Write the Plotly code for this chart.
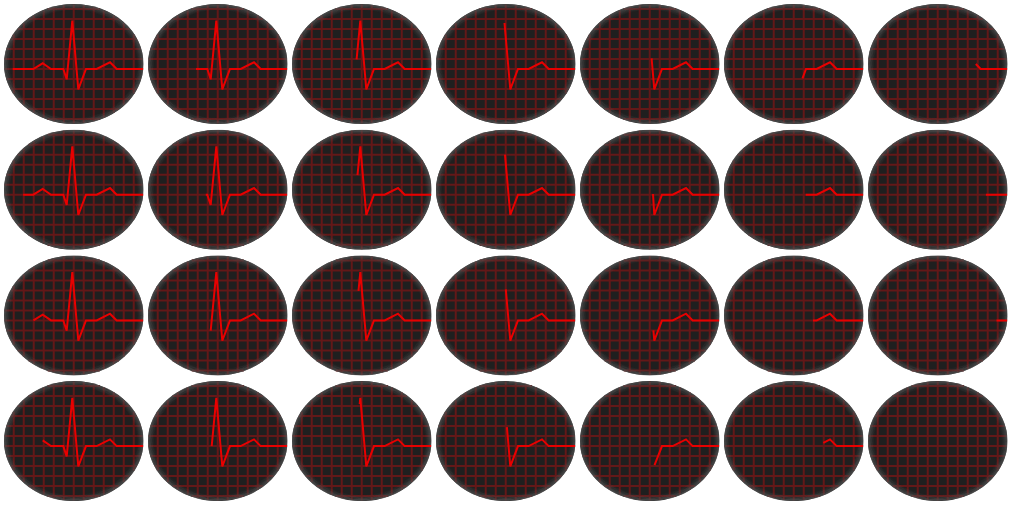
import numpy as np
import plotly.graph_objects as go

# one ECG complex: x = px from the left edge of a screen, y = px above baseline
ecg_t = [29.3, 38.7, 47.0, 59.3, 62.7, 68.3, 74.3, 82.0, 92.7, 106.0, 112.7, 139.3]
ecg_v = [0.0, 5.7, 0.0, 0.0, -10.3, 48.3, -20.3, 0.0, 0.0, 6.7, 0.0, 0.0]

# where the sweep has erased the trace up to, per screen (4 rows x 7 columns)
start_t = [
    [8.7, 48.0, 64.6, 68.5, 71.6, 78.5, 107.8],
    [19.1, 57.8, 65.5, 69.0, 73.0, 81.7, 117.9],
    [29.4, 62.7, 66.5, 69.8, 73.4, 89.0, 128.5],
    [38.7, 63.7, 67.7, 70.9, 74.5, 99.3, None],
]
start_v = [
    [0.0, 0.0, 9.7, 46.0, 10.7, -9.3, 5.0],
    [0.0, 0.0, 19.5, 40.0, 0.7, 0.0, 0.0],
    [0.0, -10.3, 29.5, 31.0, -10.0, 0.0, 0.0],
    [5.7, 0.0, 42.0, 19.0, -19.0, 3.3, None],
]

W, H = 1024, 508
SCR_W, SCR_H = 139.5, 120.0
X_RANGE = [0, SCR_W]
Y_RANGE = [-55, 65]
cx, cy = SCR_W / 2, 5.0
ax_, ay_ = SCR_W / 2, SCR_H / 2

BG = "#1f1f1f"
GRID = "#631818"
LINE = "#e80000"

fig = go.Figure()
layout = dict(width=W, height=H, margin=dict(l=0, r=0, t=0, b=0),
              paper_bgcolor="white", plot_bgcolor="rgba(0,0,0,0)",
              showlegend=False, hovermode=False)
shapes = []

# grid segments clipped to the ellipse (same for every screen)
gx, gy = [], []
for k in range(-6, 7):
    x = cx + 10 * k
    h = ay_ * np.sqrt(max(0.0, 1 - ((x - cx) / (ax_ - 0.5)) ** 2)) - 0.5
    gx += [x, x, None]
    gy += [cy - h, cy + h, None]
for k in range(-5, 7):
    y = 10.0 * k
    w = ax_ * np.sqrt(max(0.0, 1 - ((y - cy) / (ay_ - 0.5)) ** 2)) - 0.5
    gx += [cx - w, cx + w, None]
    gy += [y, y, None]

# rim shading: inset ellipse outlines fading inward
theta = np.linspace(0, 2 * np.pi, 181)
rim_insets = [0.5, 1.5, 2.5, 3.5, 4.5, 5.5]
rim_alpha = [0.7, 0.55, 0.4, 0.27, 0.16, 0.07]

n = 0
for r in range(4):
    top = 4 + 125.7 * r
    for c in range(7):
        n += 1
        left = 4 + 144 * c
        sfx = "" if n == 1 else str(n)
        xr, yr = "x" + sfx, "y" + sfx
        layout["xaxis" + sfx] = dict(domain=[left / W, (left + SCR_W) / W], range=X_RANGE,
                                     visible=False, fixedrange=True, anchor=yr)
        layout["yaxis" + sfx] = dict(domain=[1 - (top + SCR_H) / H, 1 - top / H], range=Y_RANGE,
                                     visible=False, fixedrange=True, anchor=xr)
        shapes.append(dict(type="circle", xref=xr, yref=yr, x0=0, x1=SCR_W,
                           y0=Y_RANGE[0], y1=Y_RANGE[1], fillcolor=BG,
                           line=dict(width=0), layer="below"))

        fig.add_trace(go.Scatter(x=gx, y=gy, mode="lines", xaxis=xr, yaxis=yr,
                                 line=dict(color=GRID, width=2), hoverinfo="skip"))
        for d, a in zip(rim_insets, rim_alpha):
            fig.add_trace(go.Scatter(
                x=cx + (ax_ - d) * np.cos(theta), y=cy + (ay_ - d) * np.sin(theta),
                mode="lines", xaxis=xr, yaxis=yr, hoverinfo="skip",
                line=dict(color=f"rgba(85,85,85,{a})", width=1.2)))

        s0 = start_t[r][c]
        if s0 is None:
            continue
        xs = [s0] + [t for t in ecg_t if t > s0]
        ys = [start_v[r][c]] + [v for t, v in zip(ecg_t, ecg_v) if t > s0]
        fig.add_trace(go.Scatter(x=xs, y=ys, mode="lines", xaxis=xr, yaxis=yr,
                                 line=dict(color=LINE, width=2), hoverinfo="skip"))

layout["shapes"] = shapes
fig.update_layout(**layout)
# page has a default 8px body margin; drop it so the figure sits at 0,0
fig.write_html("out.html", config={"displayModeBar": False},
               post_script="document.body.style.margin='0';document.body.style.overflow='hidden';")
